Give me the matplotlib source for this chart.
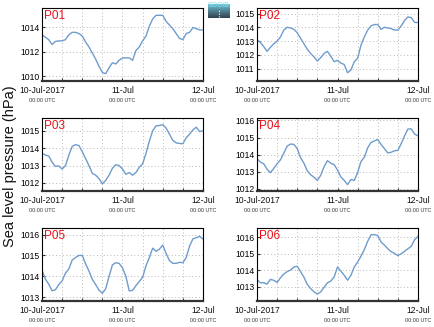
import numpy as np
import matplotlib
matplotlib.use("Agg")
import matplotlib.pyplot as plt
from matplotlib.transforms import blended_transform_factory

plt.rcParams['font.family'] = ['Liberation Sans', 'DejaVu Sans']

# Hourly observations, 10-Jul-2017 00:00 UTC to 12-Jul-2017 00:00 UTC
hours = list(range(49))

p01 = [1013.4, 1013.2, 1013.0, 1012.6, 1012.85, 1012.9, 1012.9, 1013.0, 1013.4, 1013.6,
       1013.6, 1013.5, 1013.3, 1012.8, 1012.4, 1011.9, 1011.4, 1010.8, 1010.3, 1010.2,
       1010.7, 1011.1, 1011.0, 1011.3, 1011.5, 1011.5, 1011.5, 1011.3, 1012.1, 1012.4,
       1012.9, 1013.3, 1014.1, 1014.7, 1015.0, 1015.0, 1015.0, 1014.5, 1014.2, 1013.9,
       1013.5, 1013.1, 1013.0, 1013.5, 1013.6, 1014.0, 1013.9, 1013.8, 1013.8]
p02 = [1013.1, 1012.9, 1012.6, 1012.25, 1012.55, 1012.8, 1013.0, 1013.3, 1013.8, 1014.0,
       1013.95, 1013.85, 1013.6, 1013.2, 1012.8, 1012.4, 1012.1, 1011.85, 1011.55, 1011.8,
       1012.1, 1012.25, 1011.9, 1011.5, 1011.6, 1011.4, 1011.3, 1010.7, 1010.9, 1011.5,
       1011.75, 1012.7, 1013.3, 1013.8, 1014.1, 1014.2, 1014.2, 1013.85, 1014.0, 1013.95,
       1013.9, 1013.8, 1013.8, 1014.1, 1014.5, 1014.75, 1014.7, 1014.35, 1014.35]
p03 = [1013.71, 1013.6, 1013.55, 1013.2, 1012.95, 1012.98, 1012.8, 1013.0, 1013.6, 1014.1,
       1014.2, 1014.15, 1013.8, 1013.4, 1013.0, 1012.55, 1012.45, 1012.25, 1011.95, 1012.15,
       1012.45, 1012.85, 1013.05, 1013.0, 1012.8, 1012.5, 1012.6, 1012.45, 1012.6, 1012.9,
       1013.1, 1013.7, 1014.4, 1015.0, 1015.28, 1015.3, 1015.35, 1015.15, 1014.8, 1014.45,
       1014.3, 1014.27, 1014.25, 1014.6, 1014.8, 1015.05, 1015.2, 1014.95, 1015.0]
p04 = [1013.77, 1013.57, 1013.47, 1013.15, 1012.95, 1013.2, 1013.47, 1013.7, 1014.1, 1014.5,
       1014.62, 1014.6, 1014.35, 1013.82, 1013.5, 1013.05, 1012.83, 1012.68, 1012.5, 1012.8,
       1013.3, 1013.65, 1013.5, 1013.42, 1013.1, 1012.7, 1012.5, 1012.25, 1012.55, 1012.5,
       1012.95, 1013.6, 1013.85, 1014.4, 1014.72, 1014.8, 1014.88, 1014.6, 1014.35, 1014.1,
       1014.14, 1014.23, 1014.25, 1014.65, 1015.1, 1015.5, 1015.5, 1015.2, 1015.1]
p05 = [1014.29, 1013.87, 1013.62, 1013.3, 1013.35, 1013.6, 1013.78, 1014.15, 1014.35, 1014.78,
       1014.9, 1015.0, 1015.0, 1014.6, 1014.25, 1013.85, 1013.6, 1013.33, 1013.18, 1013.4,
       1014.0, 1014.55, 1014.65, 1014.62, 1014.4, 1014.0, 1013.3, 1013.32, 1013.55, 1013.75,
       1013.95, 1014.5, 1014.9, 1015.35, 1015.2, 1015.3, 1015.5, 1015.1, 1014.75, 1014.62,
       1014.62, 1014.67, 1014.65, 1014.9, 1015.45, 1015.8, 1015.85, 1015.92, 1015.79]
p06 = [1013.45, 1013.25, 1013.25, 1013.17, 1013.45, 1013.4, 1013.27, 1013.55, 1013.78, 1013.92,
       1014.02, 1014.2, 1014.24, 1013.92, 1013.58, 1013.15, 1012.9, 1012.7, 1012.57, 1012.7,
       1012.98, 1013.25, 1013.35, 1013.6, 1014.2, 1013.95, 1013.7, 1013.4, 1013.7, 1014.2,
       1014.5, 1014.85, 1015.25, 1015.75, 1016.14, 1016.15, 1016.1, 1015.7, 1015.52, 1015.3,
       1015.12, 1015.02, 1014.88, 1015.0, 1015.15, 1015.3, 1015.45, 1015.85, 1016.04]

stations = ["P01", "P02", "P03", "P04", "P05", "P06"]
series = [p01, p02, p03, p04, p05, p06]
y_limits = [(1009.6, 1015.6), (1010.1, 1015.4), (1011.54, 1015.73),
            (1011.88, 1016.14), (1012.81, 1016.32), (1012.15, 1016.55)]
y_ticks = [[1010, 1012, 1014], [1011, 1012, 1013, 1014, 1015], [1012, 1013, 1014, 1015],
           [1012, 1013, 1014, 1015, 1016], [1013, 1014, 1015, 1016], [1013, 1014, 1015, 1016]]
date_labels = ["10-Jul-2017", "11-Jul", "12-Jul"]
date_ticks = [0, 24, 48]
time_label = "00:00 UTC"

W, H = 435, 327
fig = plt.figure(figsize=(W / 100, H / 100), dpi=100)
fig.patch.set_facecolor("white")

col_left = [42, 257]
row_top = [8, 118, 228]
ax_w, ax_h = 161, 73

for i, (name, vals) in enumerate(zip(stations, series)):
    r, c = divmod(i, 2)
    ax = fig.add_axes([col_left[c] / W, 1 - (row_top[r] + ax_h) / H, ax_w / W, ax_h / H])
    ax.plot(hours, vals, color="#6f9ccc", lw=1.0)
    ax.set_xlim(0, 48)
    ax.set_ylim(*y_limits[i])
    ax.set_xticks(range(0, 49, 6))
    ax.set_xticklabels([])
    ax.set_yticks(y_ticks[i])
    ax.set_yticklabels([str(v) for v in y_ticks[i]], fontsize=6.2)
    ax.grid(True, ls=(0, (1, 2.5)), color="#b8b8b8", lw=0.7)
    ax.tick_params(direction="in", length=2.5, width=0.8, pad=2, color="#333333")
    for s in ax.spines.values():
        s.set_linewidth(0.8)
        s.set_color("black")
    ax.spines["bottom"].set_linewidth(1.6)
    ax.spines["bottom"].set_color("#333333")
    tr = blended_transform_factory(ax.transData, ax.transAxes)
    for t, lab in zip(date_ticks, date_labels):
        ax.text(t, -0.07, lab, transform=tr, ha="center", va="top", fontsize=6.2, color="#111111")
        ax.text(t, -0.23, time_label, transform=tr, ha="center", va="top", fontsize=3.9, color="#333333")
    ax.text(0.012, 0.97, name, transform=ax.transAxes, ha="left", va="top",
            fontsize=8.5, color="#e8101a")

fig.text(10 / W, 1 - 166 / H, "Sea level pressure (hPa)", rotation=90,
         ha="center", va="center", fontsize=10.5, color="#111111")

# institution badge between the top panels
lax = fig.add_axes([208 / W, 1 - 18 / H, 22 / W, 14 / H])
grad = np.linspace(0, 1, 64).reshape(-1, 1)
cmap = matplotlib.colors.LinearSegmentedColormap.from_list("badge", ["#6fc4d4", "#4f7f90", "#33414e"])
lax.imshow(grad, aspect="auto", cmap=cmap, extent=(0, 1, 0, 1), origin="upper")
lax.plot([0.5, 0.5], [0.1, 0.6], color="white", lw=0.8, ls=(0, (1, 1.5)))
lax.text(0.5, 1.12, "SOCIB", ha="center", va="top", fontsize=5, color="#7fdcec",
         transform=lax.transAxes)
lax.set_xlim(0, 1)
lax.set_ylim(0, 1)
lax.axis("off")

fig.savefig("out.png", dpi=100, facecolor="white")
